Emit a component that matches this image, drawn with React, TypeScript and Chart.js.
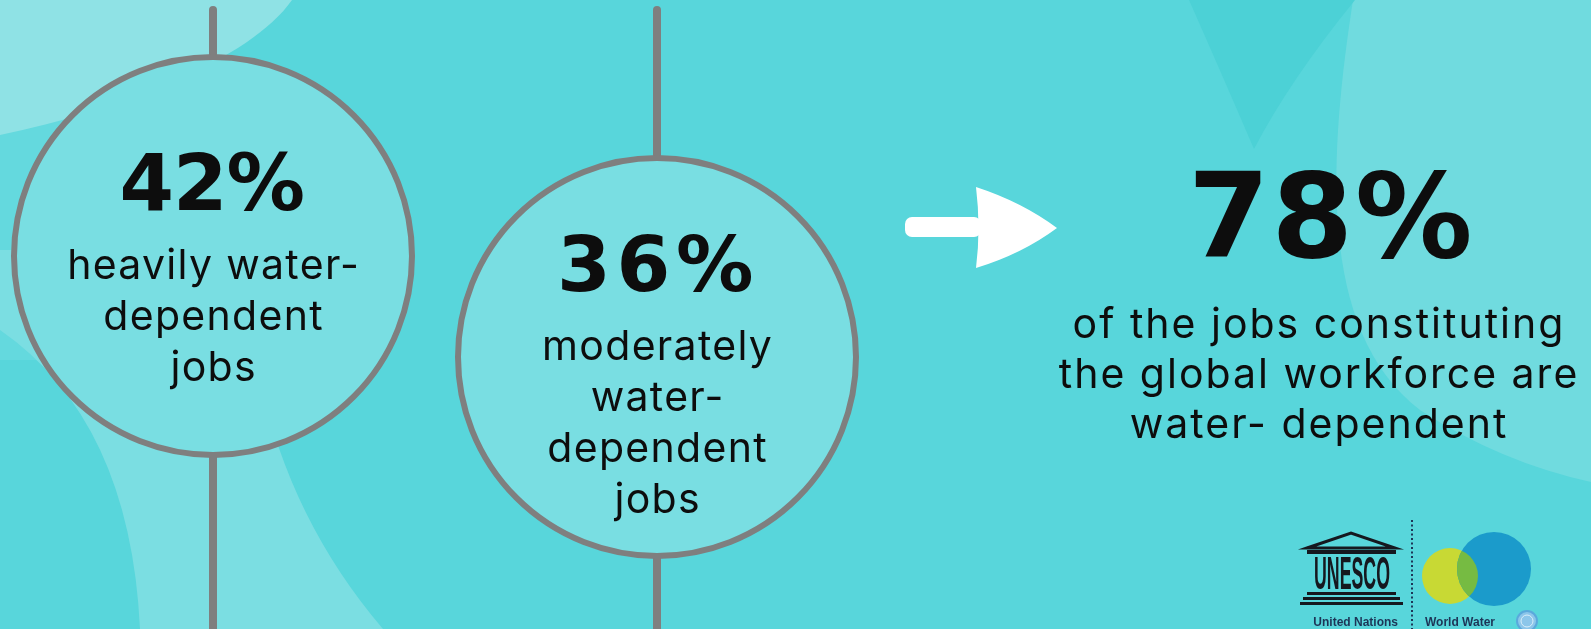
import { useEffect, useRef } from "react";
import { Chart, registerables } from "chart.js";

Chart.register(...registerables);

// ---------------- data ----------------
const CATEGORIES = ["heavily water-dependent jobs", "moderately water-dependent jobs"];
const CATEGORY_LINES = [
  ["heavily water-", "dependent", "jobs"],
  ["moderately", "water-", "dependent", "jobs"],
];
const SHARES = [42, 36];
const TOTAL_SHARE = 78;
const TOTAL_LINES = ["of the jobs constituting", "the global workforce are", "water- dependent"];
const LOGO_LABELS = ["United Nations", "World Water"];
const LOGO_WORD = "UNESCO";

// ---------------- layout / style ----------------
const W = 1591;
const H = 629;
const BUBBLE_X = [213, 657];
const BUBBLE_Y = [256, 357];
const BUBBLE_R = 199;
const HEAD_CAP = 58;
const HEAD_WIDTH = [181, 190];
const TOTAL_CAP = 88;
const TOTAL_WIDTH = 274;
const TOTAL_X = 1332;
const TOTAL_TEXT_X = 1318;
const TOTAL_BASE = 257;

const BG = "#58d6db";
const CIRCLE_FILL = "#79dee2";
const GREY = "#7f7f7f";
const INK = "#0d0d0d";
const HEAD_FONT = "'DejaVu Sans', Inter, sans-serif";
const HEAD_WEIGHT = "bold";
const BODY_FONT = "Inter, 'Open Sans', sans-serif";

const backgroundPlugin = {
  id: "bg",
  beforeDraw(chart: any) {
    const ctx = chart.ctx as CanvasRenderingContext2D;
    ctx.save();
    ctx.fillStyle = BG;
    ctx.fillRect(0, 0, W, H);

    // medium strip left
    ctx.fillStyle = "#64d9de";
    ctx.fillRect(0, 120, 80, 240);

    // top-left light
    ctx.fillStyle = "#8fe2e5";
    ctx.beginPath();
    ctx.moveTo(0, 0);
    ctx.lineTo(292, 0);
    ctx.bezierCurveTo(250, 60, 120, 110, 0, 135);
    ctx.closePath();
    ctx.fill();

    // lower-left light band
    ctx.fillStyle = "#7bdee2";
    ctx.beginPath();
    ctx.moveTo(0, 330);
    ctx.quadraticCurveTo(130, 420, 140, H);
    ctx.lineTo(383, H);
    ctx.quadraticCurveTo(290, 520, 260, 380);
    ctx.lineTo(150, 250);
    ctx.lineTo(0, 250);
    ctx.closePath();
    ctx.fill();

    // right light region
    ctx.fillStyle = "#70dbdf";
    ctx.beginPath();
    ctx.moveTo(1353, 0);
    ctx.bezierCurveTo(1330, 150, 1315, 330, 1420, 410);
    ctx.quadraticCurveTo(1500, 462, W, 482);
    ctx.lineTo(W, 0);
    ctx.closePath();
    ctx.fill();

    // dark V at top
    ctx.fillStyle = "#4cd1d6";
    ctx.beginPath();
    ctx.moveTo(1189, 0);
    ctx.lineTo(1355, 0);
    ctx.quadraticCurveTo(1290, 80, 1254, 149);
    ctx.quadraticCurveTo(1220, 70, 1189, 0);
    ctx.closePath();
    ctx.fill();
    ctx.restore();
  },
  beforeDatasetsDraw(chart: any) {
    const ctx = chart.ctx as CanvasRenderingContext2D;
    const meta = chart.getDatasetMeta(0);
    ctx.save();
    ctx.strokeStyle = GREY;
    ctx.lineWidth = 8;
    ctx.lineCap = "round";
    meta.data.forEach((el: any) => {
      ctx.beginPath();
      ctx.moveTo(el.x, 10);
      ctx.lineTo(el.x, H + 10);
      ctx.stroke();
    });
    ctx.restore();
  },
};

function drawArrow(ctx: CanvasRenderingContext2D) {
  ctx.save();
  ctx.fillStyle = "#ffffff";
  ctx.beginPath();
  (ctx as any).roundRect(905, 217, 76, 20, 7);
  ctx.fill();
  ctx.beginPath();
  ctx.moveTo(976, 187);
  ctx.quadraticCurveTo(1022, 202, 1057, 228);
  ctx.quadraticCurveTo(1022, 254, 976, 268);
  ctx.quadraticCurveTo(981, 228, 976, 187);
  ctx.closePath();
  ctx.fill();
  ctx.restore();
}

function drawLogo(ctx: CanvasRenderingContext2D) {
  ctx.save();
  const dark = "#15181f";
  ctx.fillStyle = dark;
  ctx.strokeStyle = dark;
  // pediment
  ctx.lineWidth = 3;
  ctx.beginPath();
  ctx.moveTo(1307, 548);
  ctx.lineTo(1351, 533);
  ctx.lineTo(1395, 548);
  ctx.closePath();
  ctx.stroke();
  ctx.fillRect(1307, 550, 89, 4);
  // word
  ctx.font = "bold 44px 'Liberation Sans', Arial, sans-serif";
  const mw = ctx.measureText(LOGO_WORD).width;
  ctx.save();
  ctx.translate(1314, 589);
  ctx.scale(76 / mw, 1.05);
  ctx.textBaseline = "alphabetic";
  ctx.fillText(LOGO_WORD, 0, 0);
  ctx.restore();
  ctx.fillRect(1307, 592, 89, 3);
  ctx.fillRect(1303, 597, 97, 3);
  ctx.fillRect(1300, 602, 103, 3);

  // dotted separator
  ctx.fillStyle = "#1d3557";
  for (let y = 520; y < H; y += 4.5) {
    ctx.fillRect(1411, y, 2, 2);
  }

  // water circles
  ctx.fillStyle = "#c8d934";
  ctx.beginPath();
  ctx.arc(1450, 576, 28, 0, Math.PI * 2);
  ctx.fill();
  ctx.fillStyle = "#1b9bcb";
  ctx.beginPath();
  ctx.arc(1494, 569, 37, 0, Math.PI * 2);
  ctx.fill();
  ctx.save();
  ctx.beginPath();
  ctx.arc(1450, 576, 28, 0, Math.PI * 2);
  ctx.clip();
  ctx.fillStyle = "#76bb42";
  ctx.beginPath();
  ctx.arc(1494, 569, 37, 0, Math.PI * 2);
  ctx.fill();
  ctx.restore();

  // labels
  ctx.fillStyle = "#1d3557";
  ctx.font = "bold 12px 'Liberation Sans', Arial, sans-serif";
  ctx.textAlign = "right";
  ctx.fillText(LOGO_LABELS[0], 1398, 626);
  ctx.textAlign = "left";
  ctx.fillText(LOGO_LABELS[1], 1425, 626);

  // UN emblem
  ctx.strokeStyle = "#5aa9dc";
  ctx.fillStyle = "#8cc6ea";
  ctx.lineWidth = 2;
  ctx.beginPath();
  ctx.arc(1527, 621, 10, 0, Math.PI * 2);
  ctx.fill();
  ctx.stroke();
  ctx.strokeStyle = "#d9eefa";
  ctx.lineWidth = 1;
  ctx.beginPath();
  ctx.arc(1527, 621, 6, 0, Math.PI * 2);
  ctx.stroke();
  ctx.restore();
}

// draw centred text with letter spacing
function centered(ctx: CanvasRenderingContext2D, txt: string, x: number, y: number, spacing: number) {
  (ctx as any).letterSpacing = `${spacing}px`;
  const w = ctx.measureText(txt).width - spacing;
  ctx.textAlign = "left";
  ctx.fillText(txt, x - w / 2, y);
  (ctx as any).letterSpacing = "0px";
}

// headline: size from the digit height, spacing from the ink width
function headline(ctx: CanvasRenderingContext2D, txt: string, x: number, y: number, cap: number, width: number) {
  (ctx as any).letterSpacing = "0px";
  ctx.font = `${HEAD_WEIGHT} 100px ${HEAD_FONT}`;
  const m = ctx.measureText(txt.replace("%", ""));
  const size = (100 * cap) / m.actualBoundingBoxAscent;
  ctx.font = `${HEAD_WEIGHT} ${size.toFixed(2)}px ${HEAD_FONT}`;
  const mm = ctx.measureText(txt);
  const ink = mm.actualBoundingBoxLeft + mm.actualBoundingBoxRight;
  const spacing = (width - ink) / (txt.length - 1);
  (ctx as any).letterSpacing = `${spacing}px`;
  ctx.textAlign = "left";
  ctx.fillText(txt, x - width / 2 + mm.actualBoundingBoxLeft, y);
  (ctx as any).letterSpacing = "0px";
}

const labelPlugin = {
  id: "labels",
  afterDatasetsDraw(chart: any) {
    const ctx = chart.ctx as CanvasRenderingContext2D;
    const meta = chart.getDatasetMeta(0);
    ctx.save();
    ctx.fillStyle = INK;
    ctx.textBaseline = "alphabetic";
    meta.data.forEach((el: any, i: number) => {
      const lines = CATEGORY_LINES[i];
      const headBase = el.y - 46 - 20 * (lines.length - 3);
      headline(ctx, `${SHARES[i]}%`, el.x, headBase, HEAD_CAP, HEAD_WIDTH[i]);
      ctx.font = `400 41px ${BODY_FONT}`;
      lines.forEach((ln, j) => {
        centered(ctx, ln, el.x, headBase + 69 + 51 * j, 1.3);
      });
    });

    // summary
    const tx = chart.scales.x.getPixelForValue(TOTAL_X);
    const ttx = chart.scales.x.getPixelForValue(TOTAL_TEXT_X);
    const ty = chart.scales.y.getPixelForValue(TOTAL_BASE);
    headline(ctx, `${TOTAL_SHARE}%`, tx, ty, TOTAL_CAP, TOTAL_WIDTH);
    ctx.font = `400 41px ${BODY_FONT}`;
    TOTAL_LINES.forEach((ln, j) => {
      centered(ctx, ln, ttx, ty + 81 + 50 * j, 2);
    });
    ctx.restore();

    drawArrow(ctx);
    drawLogo(ctx);
  },
};

export default function App() {
  const ref = useRef<HTMLCanvasElement | null>(null);
  useEffect(() => {
    document.body.style.margin = "0";
    const canvas = ref.current;
    if (!canvas) return;
    const chart = new Chart(canvas, {
      type: "scatter",
      data: {
        datasets: [
          {
            label: "share",
            data: SHARES.map((v, i) => ({ x: BUBBLE_X[i], y: BUBBLE_Y[i], v, name: CATEGORIES[i] })) as any,
            pointRadius: BUBBLE_R,
            pointHoverRadius: BUBBLE_R,
            pointBackgroundColor: CIRCLE_FILL,
            pointBorderColor: GREY,
            pointBorderWidth: 6,
            pointHoverBorderWidth: 6,
            clip: false as any,
          },
        ],
      },
      options: {
        responsive: false,
        animation: false,
        events: [],
        layout: { padding: 0, autoPadding: false },
        plugins: { legend: { display: false }, tooltip: { enabled: false } },
        scales: {
          x: { type: "linear", display: false, min: 0, max: W },
          y: { type: "linear", display: false, min: 0, max: H, reverse: true },
        },
      },
      plugins: [backgroundPlugin, labelPlugin],
    });
    return () => chart.destroy();
  }, []);
  return (
    <div style={{ width: W, height: H, overflow: "hidden" }}>
      <canvas ref={ref} width={W} height={H} style={{ display: "block" }} />
    </div>
  );
}
